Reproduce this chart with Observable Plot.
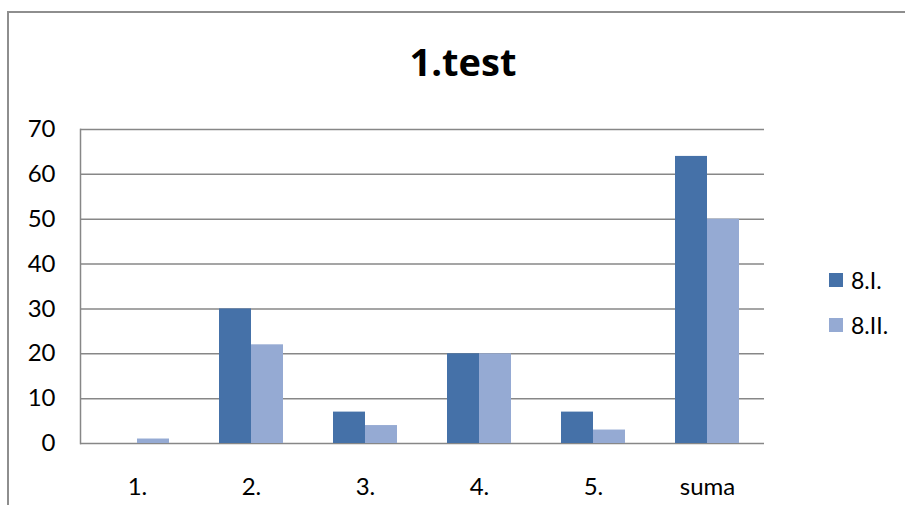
<!DOCTYPE html>
<html>
<head>
<meta charset="utf-8">
<script src="https://cdn.jsdelivr.net/npm/d3@7"></script>
<script src="https://cdn.jsdelivr.net/npm/@observablehq/plot@0.6"></script>
<style>
  html, body { margin: 0; padding: 0; background: #fff; }
  #wrap { position: relative; width: 905px; height: 505px; overflow: hidden; font-family: Lato, "Noto Sans", sans-serif; }
  #frame { position: absolute; left: 7px; top: 11px; width: 960px; height: 560px; border: 2px solid #8e8e8e; box-sizing: border-box; }
  #title { position: absolute; left: 0; width: 926px; top: 36px; text-align: center; font-family: "Open Sans", Lato, sans-serif; font-weight: bold; font-size: 38px; line-height: 50px; color: #000; }
  #chart { position: absolute; left: 0; top: 0; }
  .legend { position: absolute; left: 829px; font-size: 23px; line-height: 28px; color: #000; display: flex; align-items: center; }
  .legend span.sw { display: inline-block; width: 14px; height: 14px; margin-right: 8px; }
</style>
</head>
<body>
<div id="wrap">
  <div id="frame"></div>
  <div id="title">1.test</div>
  <div id="chart"></div>
  <div class="legend" style="top:266px"><span class="sw" style="background:#4571A8"></span>8.I.</div>
  <div class="legend" style="top:311px"><span class="sw" style="background:#95AAD3"></span>8.II.</div>
</div>
<script>
// Question categories and the score of each class
const categories = ["1.", "2.", "3.", "4.", "5.", "suma"];
const class1 = [0, 30, 7, 20, 7, 64];   // 8.I.
const class2 = [1, 22, 4, 20, 3, 50];   // 8.II.
const yTicks = [0, 10, 20, 30, 40, 50, 60, 70];

const rows1 = categories.map((c, i) => ({category: c, value: class1[i]}));
const rows2 = categories.map((c, i) => ({category: c, value: class2[i]}));

const gridColor = "#878787";

const chart = Plot.plot({
  width: 905,
  height: 505,
  marginLeft: 80,
  marginRight: 141,
  marginTop: 129,
  marginBottom: 62,
  style: {fontFamily: "Lato, 'Noto Sans', sans-serif", fontSize: "24px", color: "#000", background: "transparent"},
  x: {domain: categories, padding: 0, label: null},
  y: {domain: [0, 70], label: null},
  marks: [
    Plot.ruleY(yTicks, {stroke: gridColor, strokeWidth: 1.5}),
    Plot.frame({anchor: "left", stroke: gridColor, strokeWidth: 1.5}),
    Plot.barY(rows1, {x: "category", y: "value", fill: "#4571A8", insetLeft: 25, insetRight: 57}),
    Plot.barY(rows2, {x: "category", y: "value", fill: "#95AAD3", insetLeft: 57, insetRight: 25}),
    Plot.axisY({ticks: yTicks, tickSize: 0, tickPadding: 25, fontSize: 24}),
    Plot.axisX({tickSize: 0, tickPadding: 34, fontSize: 24})
  ]
});
document.getElementById("chart").appendChild(chart);
</script>
</body>
</html>
